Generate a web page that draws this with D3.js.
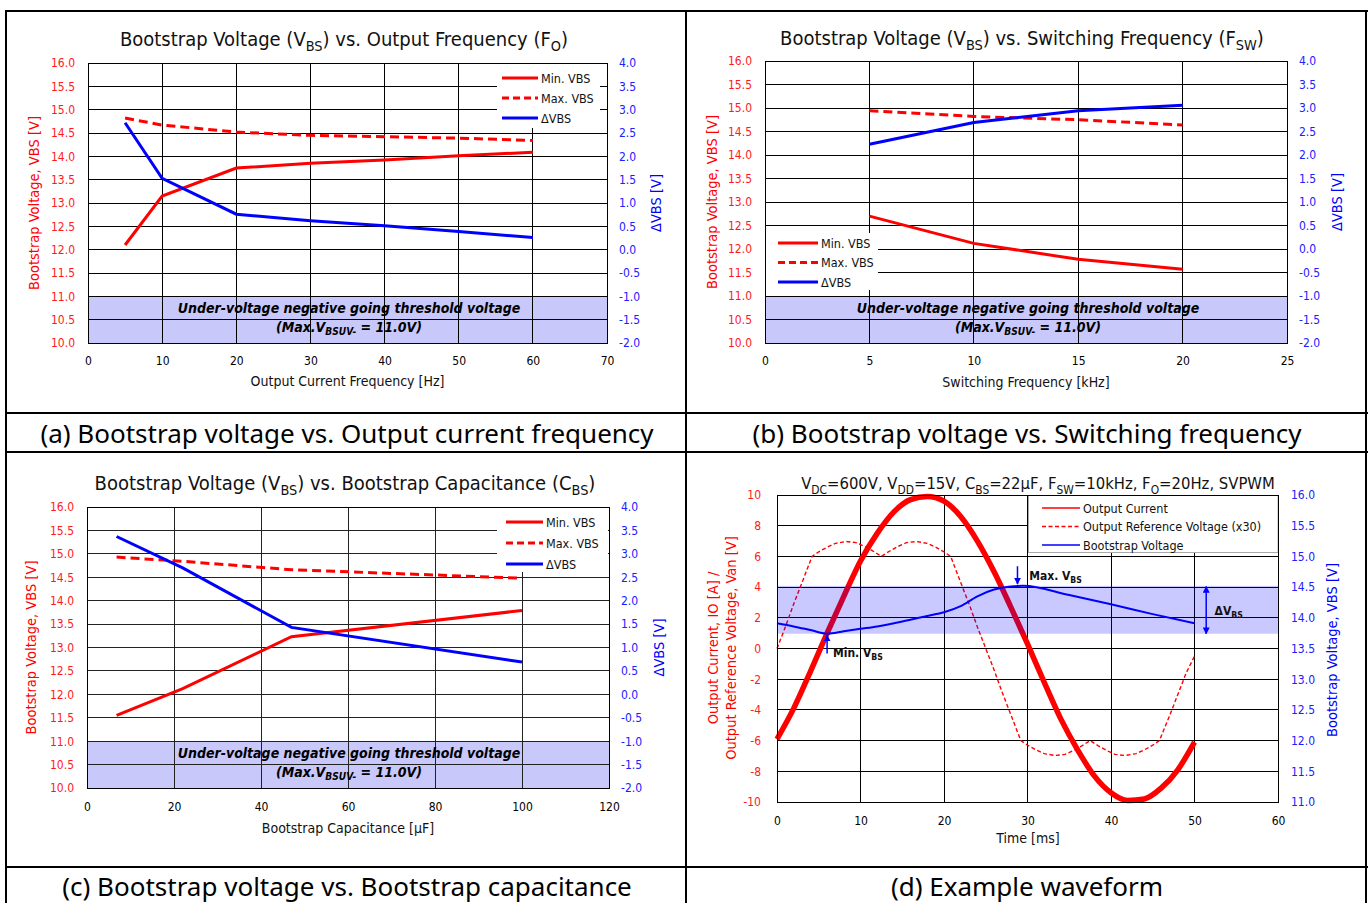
<!DOCTYPE html>
<html>
<head>
<meta charset="utf-8">
<script src="https://cdn.jsdelivr.net/npm/d3@7"></script>
<style>
body { margin: 0; background: #fff; }
svg { display: block; }
text { font-family: "DejaVu Sans Condensed", "DejaVu Sans", sans-serif; }
.cap { font-family: "Noto Sans", sans-serif; }
</style>
</head>
<body>
<svg id="fig" width="1370" height="903"></svg>
<script>
/**
 * Data
 */
// (a) vs. output current frequency
var foHz = [5, 10, 20, 30, 40, 50, 60];
var foMinVbs = [12.10, 13.15, 13.75, 13.85, 13.92, 14.01, 14.09];
var foMaxVbs = [14.82, 14.67, 14.52, 14.45, 14.42, 14.39, 14.34];
var foDeltaVbs = [2.72, 1.53, 0.76, 0.62, 0.51, 0.39, 0.26];
var foTicks = [0, 10, 20, 30, 40, 50, 60, 70];

// (b) vs. switching frequency
var fswKhz = [5, 10, 15, 20];
var fswMinVbs = [12.70, 12.12, 11.78, 11.57];
var fswMaxVbs = [14.94, 14.82, 14.75, 14.64];
var fswDeltaVbs = [2.23, 2.69, 2.94, 3.06];
var fswTicks = [0, 5, 10, 15, 20, 25];

// (c) vs. bootstrap capacitance
var cbsUf = [6.8, 22, 47, 100];
var cbsMinVbs = [11.55, 12.12, 13.23, 13.79];
var cbsMaxVbs = [14.93, 14.84, 14.66, 14.48];
var cbsDeltaVbs = [3.37, 2.70, 1.43, 0.69];
var cbsTicks = [0, 20, 40, 60, 80, 100, 120];

// shared axes of (a)-(c)
var vbsTicks = [10.0, 10.5, 11.0, 11.5, 12.0, 12.5, 13.0, 13.5, 14.0, 14.5, 15.0, 15.5, 16.0];
var deltaTicks = [-2.0, -1.5, -1.0, -0.5, 0.0, 0.5, 1.0, 1.5, 2.0, 2.5, 3.0, 3.5, 4.0];
var uvloLevel = 11.0;

// (d) example waveform
var waveTime = [0, 2, 4, 6, 8, 10, 12, 14, 16, 18, 20, 22, 24, 26, 28, 30, 32, 34, 36, 38, 40, 42, 44, 46, 48, 50];
var waveCurrent = [-5.9, -3.9, -1.5, 1.0, 3.4, 5.7, 7.5, 8.9, 9.7, 9.9, 9.6, 8.6, 7.0, 5.0, 2.7, 0.3, -2.2, -4.6, -6.6, -8.3, -9.4, -9.9, -9.8, -9.1, -7.9, -6.1];
var refTime = [0, 1, 2, 3, 4.2, 5, 6, 7, 8.3, 9.5, 10.5, 11.5, 12.5, 13.5, 14.5, 15.5, 16.7, 18, 19, 20, 20.8, 22, 23, 24, 25, 26, 27, 28, 29.2, 30, 31, 32, 33.3, 34.5, 35.5, 36.5, 37.5, 38.5, 39.5, 40.5, 41.7, 43, 44, 45, 45.8, 47, 48, 49, 50];
var refVoltage = [0, 1.4, 2.9, 4.3, 6.0, 6.3, 6.6, 6.85, 6.97, 6.9, 6.65, 6.35, 6.0, 6.35, 6.65, 6.9, 6.97, 6.85, 6.6, 6.3, 6.0, 4.3, 2.9, 1.4, 0, -1.4, -2.9, -4.3, -6.0, -6.3, -6.6, -6.85, -6.97, -6.9, -6.65, -6.35, -6.0, -6.35, -6.65, -6.9, -6.97, -6.85, -6.6, -6.3, -6.0, -4.4, -3.0, -1.6, -0.5];
var vbsTime = [0, 2, 4, 6, 8, 10, 12, 15, 18, 20, 22, 24, 26, 28, 29.5, 35, 40, 45, 50];
var vbsWave = [13.91, 13.86, 13.80, 13.74, 13.78, 13.82, 13.86, 13.94, 14.03, 14.09, 14.19, 14.35, 14.46, 14.51, 14.52, 14.37, 14.22, 14.06, 13.91];
var timeTicks = [0, 10, 20, 30, 40, 50, 60];
var currentTicks = [-10, -8, -6, -4, -2, 0, 2, 4, 6, 8, 10];
var vbsWaveTicks = [11.0, 11.5, 12.0, 12.5, 13.0, 13.5, 14.0, 14.5, 15.0, 15.5, 16.0];

var captions = [
    "(a) Bootstrap voltage vs. Output current frequency",
    "(b) Bootstrap voltage vs. Switching frequency",
    "(c) Bootstrap voltage vs. Bootstrap capacitance",
    "(d) Example waveform"
];

/**
 * Styles
 */
var red = "#ff0000";
var blue = "#0000ff";
var tickRed = "#ff1a1a";
var tickBlue = "#2020ff";
var bandColor = "#c8c8fa";

// plain hyphen minus, like the reference
var fmt1 = function(d) { return d.toFixed(1); };
var fmt0 = function(d) { return d.toFixed(0); };

var svg = d3.select("#fig");
svg.append("rect").attr("width", 1370).attr("height", 903).attr("fill", "#fff");

/**
 * Append tspans to a text, parts like {t: "BS", sub: true}
 */
var richText = function(sel, parts, shift) {
    let down = 0;
    parts.forEach(function(p) {
        let t = sel.append("tspan").text(p.t);
        if (p.sub) {
            t.attr("font-size", "0.72em").attr("dy", shift - down);
            down = shift;
        } else if (down) {
            t.attr("dy", -down);
            down = 0;
        }
    });
    return sel;
};

var styleTicks = function(g, color, size) {
    g.select(".domain").remove();
    g.selectAll("text")
        .attr("fill", color)
        .style("font-family", '"DejaVu Sans Condensed", "DejaVu Sans", sans-serif')
        .style("font-size", size + "px");
};

/**
 * Draw one of the three bootstrap voltage panels (a)-(c)
 */
var drawVbsPanel = function(p) {
    let g = svg.append("g");
    let x = d3.scaleLinear()
        .domain([p.xTicks[0], p.xTicks[p.xTicks.length - 1]])
        .range([p.left, p.right]);
    let y = d3.scaleLinear().domain([10, 16]).range([p.bottom, p.top]);
    let y2 = d3.scaleLinear().domain([-2, 4]).range([p.bottom, p.top]);

    // under-voltage band
    g.append("rect")
        .attr("x", p.left).attr("y", y(uvloLevel))
        .attr("width", p.right - p.left).attr("height", y(10) - y(uvloLevel))
        .attr("fill", bandColor);

    // grid
    g.append("g").selectAll("line")
        .data(vbsTicks)
        .join("line")
        .attr("x1", p.left).attr("x2", p.right)
        .attr("y1", function(d) { return y(d); })
        .attr("y2", function(d) { return y(d); })
        .attr("stroke", p.gridColor).attr("shape-rendering", "crispEdges");
    g.append("g").selectAll("line")
        .data(p.xTicks)
        .join("line")
        .attr("x1", function(d) { return x(d); })
        .attr("x2", function(d) { return x(d); })
        .attr("y1", p.top).attr("y2", p.bottom)
        .attr("stroke", p.gridColor).attr("shape-rendering", "crispEdges");
    g.append("rect")
        .attr("x", p.left).attr("y", p.top)
        .attr("width", p.right - p.left).attr("height", p.bottom - p.top)
        .attr("fill", "none").attr("stroke", "#000").attr("shape-rendering", "crispEdges");

    // series
    let lineL = d3.line()
        .x(function(d) { return x(d[0]); })
        .y(function(d) { return y(d[1]); });
    let lineR = d3.line()
        .x(function(d) { return x(d[0]); })
        .y(function(d) { return y2(d[1]); });

    g.append("path").datum(d3.zip(p.xs, p.maxV))
        .attr("d", lineL).attr("fill", "none")
        .attr("stroke", red).attr("stroke-width", 3).attr("stroke-dasharray", "9,5");
    g.append("path").datum(d3.zip(p.xs, p.minV))
        .attr("d", lineL).attr("fill", "none")
        .attr("stroke", red).attr("stroke-width", 3);
    g.append("path").datum(d3.zip(p.xs, p.deltaV))
        .attr("d", lineR).attr("fill", "none")
        .attr("stroke", blue).attr("stroke-width", 3);

    // axes
    g.append("g")
        .attr("transform", "translate(" + p.left + ",0)")
        .call(d3.axisLeft(y).tickValues(vbsTicks).tickSize(0).tickPadding(13).tickFormat(fmt1))
        .call(styleTicks, tickRed, 12);
    g.append("g")
        .attr("transform", "translate(" + p.right + ",0)")
        .call(d3.axisRight(y2).tickValues(deltaTicks).tickSize(0).tickPadding(12).tickFormat(fmt1))
        .call(styleTicks, tickBlue, 12);
    g.append("g")
        .attr("transform", "translate(0," + p.bottom + ")")
        .call(d3.axisBottom(x).tickValues(p.xTicks).tickSize(0).tickPadding(p.xPad).tickFormat(fmt0))
        .call(styleTicks, "#000", 12);

    // legend
    let lg = g.append("g");
    lg.append("rect")
        .attr("x", p.legend.x).attr("y", p.legend.y)
        .attr("width", p.legend.w).attr("height", p.legend.h)
        .attr("fill", "#fff");
    let entries = [
        {label: "Min. VBS", color: red, dash: null},
        {label: "Max. VBS", color: red, dash: "7,4"},
        {label: "\u0394VBS", color: blue, dash: null}
    ];
    entries.forEach(function(e, i) {
        let ry = p.legend.rowY + i * p.legend.step;
        lg.append("line")
            .attr("x1", p.legend.lineX).attr("x2", p.legend.lineX + p.legend.lineW)
            .attr("y1", ry).attr("y2", ry)
            .attr("stroke", e.color).attr("stroke-width", 3)
            .attr("stroke-dasharray", e.dash);
        lg.append("text")
            .attr("x", p.legend.lineX + p.legend.lineW + 3).attr("y", ry + 4.5)
            .attr("font-size", 12.5).attr("fill", "#111")
            .text(e.label);
    });

    // under-voltage note
    g.append("text")
        .attr("x", p.uvloX).attr("y", y(10.75) + 5)
        .attr("text-anchor", "middle")
        .attr("font-size", 14).attr("font-weight", "bold").attr("font-style", "italic")
        .text("Under-voltage negative going threshold voltage");
    richText(g.append("text")
        .attr("x", p.uvloX).attr("y", y(10.35) + 5)
        .attr("text-anchor", "middle")
        .attr("font-size", 14).attr("font-weight", "bold").attr("font-style", "italic"),
        [{t: "(Max.V"}, {t: "BSUV-", sub: true}, {t: " = 11.0V)"}], 3);

    // titles
    richText(svg.append("text")
        .attr("x", p.titleX).attr("y", p.titleY)
        .attr("text-anchor", "middle").attr("font-size", 20).attr("fill", "#111"),
        p.title, 5);
    svg.append("text")
        .attr("x", (p.left + p.right) / 2).attr("y", p.xTitleY)
        .attr("text-anchor", "middle").attr("font-size", 14).attr("fill", "#111")
        .text(p.xTitle);
    svg.append("text")
        .attr("transform", "translate(" + p.yTitleX + "," + (p.top + p.bottom) / 2 + ")rotate(-90)")
        .attr("dy", "0.35em").attr("text-anchor", "middle")
        .attr("font-size", 14.5).attr("fill", red)
        .text("Bootstrap Voltage, VBS [V]");
    svg.append("text")
        .attr("transform", "translate(" + p.y2TitleX + "," + (p.top + p.bottom) / 2 + ")rotate(-90)")
        .attr("dy", "0.35em").attr("text-anchor", "middle")
        .attr("font-size", 14.5).attr("fill", blue)
        .text("\u0394VBS [V]");
};

drawVbsPanel({
    left: 88, right: 607, top: 63, bottom: 343,
    xs: foHz, minV: foMinVbs, maxV: foMaxVbs, deltaV: foDeltaVbs,
    xTicks: foTicks, xPad: 13, gridColor: "#000",
    title: [{t: "Bootstrap Voltage (V"}, {t: "BS", sub: true}, {t: ") vs. Output Frequency (F"}, {t: "O", sub: true}, {t: ")"}],
    titleX: 344, titleY: 46,
    xTitle: "Output Current Frequency [Hz]", xTitleY: 386,
    yTitleX: 34, y2TitleX: 656,
    uvloX: 349,
    legend: {x: 497, y: 64, w: 103, h: 64, rowY: 78, step: 20, lineX: 502, lineW: 36}
});

drawVbsPanel({
    left: 765, right: 1287, top: 61, bottom: 343,
    xs: fswKhz, minV: fswMinVbs, maxV: fswMaxVbs, deltaV: fswDeltaVbs,
    xTicks: fswTicks, xPad: 13, gridColor: "#000",
    title: [{t: "Bootstrap Voltage (V"}, {t: "BS", sub: true}, {t: ") vs. Switching Frequency (F"}, {t: "SW", sub: true}, {t: ")"}],
    titleX: 1022, titleY: 45,
    xTitle: "Switching Frequency [kHz]", xTitleY: 387,
    yTitleX: 712, y2TitleX: 1337,
    uvloX: 1028,
    legend: {x: 766, y: 233, w: 112, h: 57, rowY: 243, step: 19.5, lineX: 778, lineW: 40}
});

drawVbsPanel({
    left: 87, right: 609, top: 507, bottom: 788,
    xs: cbsUf, minV: cbsMinVbs, maxV: cbsMaxVbs, deltaV: cbsDeltaVbs,
    xTicks: cbsTicks, xPad: 14, gridColor: "#222",
    title: [{t: "Bootstrap Voltage (V"}, {t: "BS", sub: true}, {t: ") vs. Bootstrap Capacitance (C"}, {t: "BS", sub: true}, {t: ")"}],
    titleX: 345, titleY: 490,
    xTitle: "Bootstrap Capacitance [\u00b5F]", xTitleY: 833,
    yTitleX: 31, y2TitleX: 659,
    uvloX: 349,
    legend: {x: 497, y: 508, w: 111, h: 64, rowY: 522, step: 21, lineX: 506, lineW: 37}
});

/**
 * Panel (d): example waveform
 */
var drawWaveform = function() {
    let p = {left: 777, right: 1278, top: 495, bottom: 802};
    let g = svg.append("g");
    let x = d3.scaleLinear().domain([0, 60]).range([p.left, p.right]);
    let y = d3.scaleLinear().domain([-10, 10]).range([p.bottom, p.top]);
    let y2 = d3.scaleLinear().domain([11, 16]).range([p.bottom, p.top]);

    // grid
    g.append("g").selectAll("line")
        .data(currentTicks)
        .join("line")
        .attr("x1", p.left).attr("x2", p.right)
        .attr("y1", function(d) { return y(d); })
        .attr("y2", function(d) { return y(d); })
        .attr("stroke", "#000").attr("shape-rendering", "crispEdges");
    g.append("g").selectAll("line")
        .data(timeTicks)
        .join("line")
        .attr("x1", function(d) { return x(d); })
        .attr("x2", function(d) { return x(d); })
        .attr("y1", p.top).attr("y2", p.bottom)
        .attr("stroke", "#000").attr("shape-rendering", "crispEdges");

    let lineL = d3.line()
        .x(function(d) { return x(d[0]); })
        .y(function(d) { return y(d[1]); })
        .curve(d3.curveMonotoneX);
    let lineR = d3.line()
        .x(function(d) { return x(d[0]); })
        .y(function(d) { return y2(d[1]); })
        .curve(d3.curveMonotoneX);

    g.append("path").datum(d3.zip(refTime, refVoltage))
        .attr("d", d3.line().x(function(d) { return x(d[0]); }).y(function(d) { return y(d[1]); }))
        .attr("fill", "none").attr("stroke", red).attr("stroke-width", 1.4)
        .attr("stroke-dasharray", "4,2.5");
    g.append("path").datum(d3.zip(waveTime, waveCurrent))
        .attr("d", lineL)
        .attr("fill", "none").attr("stroke", red).attr("stroke-width", 5.5);

    // Vbs ripple band
    let vbsExt = d3.extent(vbsWave);
    g.append("rect")
        .attr("x", p.left).attr("y", y2(vbsExt[1]))
        .attr("width", p.right - p.left).attr("height", y2(vbsExt[0]) - y2(vbsExt[1]))
        .attr("fill", blue).attr("fill-opacity", 0.21);

    g.append("path").datum(d3.zip(vbsTime, vbsWave))
        .attr("d", lineR)
        .attr("fill", "none").attr("stroke", blue).attr("stroke-width", 2);

    // annotations
    let defs = svg.append("defs");
    defs.append("marker")
        .attr("id", "ah").attr("viewBox", "0 0 10 10")
        .attr("refX", 9).attr("refY", 5)
        .attr("markerWidth", 7).attr("markerHeight", 7)
        .attr("markerUnits", "userSpaceOnUse")
        .attr("orient", "auto-start-reverse")
        .append("path").attr("d", "M0,0L10,5L0,10z").attr("fill", blue);

    let arrows = [
        {t: 6.0, from: 13.42, to: 13.72, both: false},
        {t: 28.8, from: 14.84, to: 14.55, both: false},
        {t: 51.4, from: 14.51, to: 13.74, both: true}
    ];
    arrows.forEach(function(a) {
        g.append("line")
            .attr("x1", x(a.t)).attr("x2", x(a.t))
            .attr("y1", y2(a.from)).attr("y2", y2(a.to))
            .attr("stroke", blue).attr("stroke-width", 1.5)
            .attr("marker-end", "url(#ah)")
            .attr("marker-start", a.both ? "url(#ah)" : null);
    });
    let notes = [
        {t: 6.7, v: 13.36, parts: [{t: "Min. V"}, {t: "BS", sub: true}]},
        {t: 30.2, v: 14.62, parts: [{t: "Max. V"}, {t: "BS", sub: true}]},
        {t: 52.4, v: 14.05, parts: [{t: "\u0394V"}, {t: "BS", sub: true}]}
    ];
    notes.forEach(function(n) {
        richText(g.append("text")
            .attr("x", x(n.t)).attr("y", y2(n.v))
            .attr("font-size", 12).attr("font-weight", "bold").attr("fill", "#111"),
            n.parts, 3);
    });

    // legend
    let lg = g.append("g");
    lg.append("rect")
        .attr("x", 1028.5).attr("y", p.top + 0.5)
        .attr("width", p.right - 1028.5).attr("height", 57)
        .attr("fill", "#fff").attr("stroke", "#aaa");
    let entries = [
        {label: "Output Current", color: red, dash: null},
        {label: "Output Reference Voltage (x30)", color: red, dash: "4,2.5"},
        {label: "Bootstrap Voltage", color: blue, dash: null}
    ];
    entries.forEach(function(e, i) {
        let ry = 508 + i * 18.5;
        lg.append("line")
            .attr("x1", 1042).attr("x2", 1080).attr("y1", ry).attr("y2", ry)
            .attr("stroke", e.color).attr("stroke-width", 1.4)
            .attr("stroke-dasharray", e.dash);
        lg.append("text")
            .attr("x", 1083).attr("y", ry + 4.5)
            .attr("font-size", 12.5).attr("fill", "#111")
            .text(e.label);
    });

    g.append("rect")
        .attr("x", p.left).attr("y", p.top)
        .attr("width", p.right - p.left).attr("height", p.bottom - p.top)
        .attr("fill", "none").attr("stroke", "#000").attr("shape-rendering", "crispEdges");

    // axes
    g.append("g")
        .attr("transform", "translate(" + p.left + ",0)")
        .call(d3.axisLeft(y).tickValues(currentTicks).tickSize(0).tickPadding(16).tickFormat(fmt0))
        .call(styleTicks, tickRed, 12);
    g.append("g")
        .attr("transform", "translate(" + p.right + ",0)")
        .call(d3.axisRight(y2).tickValues(vbsWaveTicks).tickSize(0).tickPadding(13).tickFormat(fmt1))
        .call(styleTicks, tickBlue, 12);
    g.append("g")
        .attr("transform", "translate(0," + p.bottom + ")")
        .call(d3.axisBottom(x).tickValues(timeTicks).tickSize(0).tickPadding(14).tickFormat(fmt0))
        .call(styleTicks, "#000", 12);

    // titles
    richText(svg.append("text")
        .attr("x", 1038).attr("y", 489)
        .attr("text-anchor", "middle").attr("font-size", 16.5).attr("fill", "#111"),
        [{t: "V"}, {t: "DC", sub: true}, {t: "=600V, V"}, {t: "DD", sub: true}, {t: "=15V, C"},
         {t: "BS", sub: true}, {t: "=22\u00b5F, F"}, {t: "SW", sub: true}, {t: "=10kHz, F"},
         {t: "O", sub: true}, {t: "=20Hz, SVPWM"}], 5);
    svg.append("text")
        .attr("x", 1028).attr("y", 843)
        .attr("text-anchor", "middle").attr("font-size", 14).attr("fill", "#111")
        .text("Time [ms]");
    ["Output Current, IO [A] /", "Output Reference Voltage, Van [V]"].forEach(function(s, i) {
        svg.append("text")
            .attr("transform", "translate(" + (713 + i * 18) + ",648)rotate(-90)")
            .attr("dy", "0.35em").attr("text-anchor", "middle")
            .attr("font-size", 14.5).attr("fill", red)
            .text(s);
    });
    svg.append("text")
        .attr("transform", "translate(1332,650)rotate(-90)")
        .attr("dy", "0.35em").attr("text-anchor", "middle")
        .attr("font-size", 14.5).attr("fill", blue)
        .text("Bootstrap Voltage, VBS [V]");
};

drawWaveform();

/**
 * Table frame and captions
 */
var frame = svg.append("g").attr("stroke", "#000").attr("stroke-width", 2);
[[5, 11, 1368, 11], [5, 413, 1368, 413], [5, 452, 1368, 452], [5, 867, 1368, 867],
 [6, 11, 6, 903], [686, 11, 686, 903], [1366, 11, 1366, 903]].forEach(function(l) {
    frame.append("line")
        .attr("x1", l[0]).attr("y1", l[1]).attr("x2", l[2]).attr("y2", l[3]);
});

var capPos = [[347, 443], [1027, 443], [347, 896], [1027, 896]];
captions.forEach(function(c, i) {
    svg.append("text")
        .attr("class", "cap")
        .attr("x", capPos[i][0]).attr("y", capPos[i][1])
        .attr("text-anchor", "middle").attr("font-size", 26).attr("fill", "#000")
        .text(c);
});
</script>
</body>
</html>
